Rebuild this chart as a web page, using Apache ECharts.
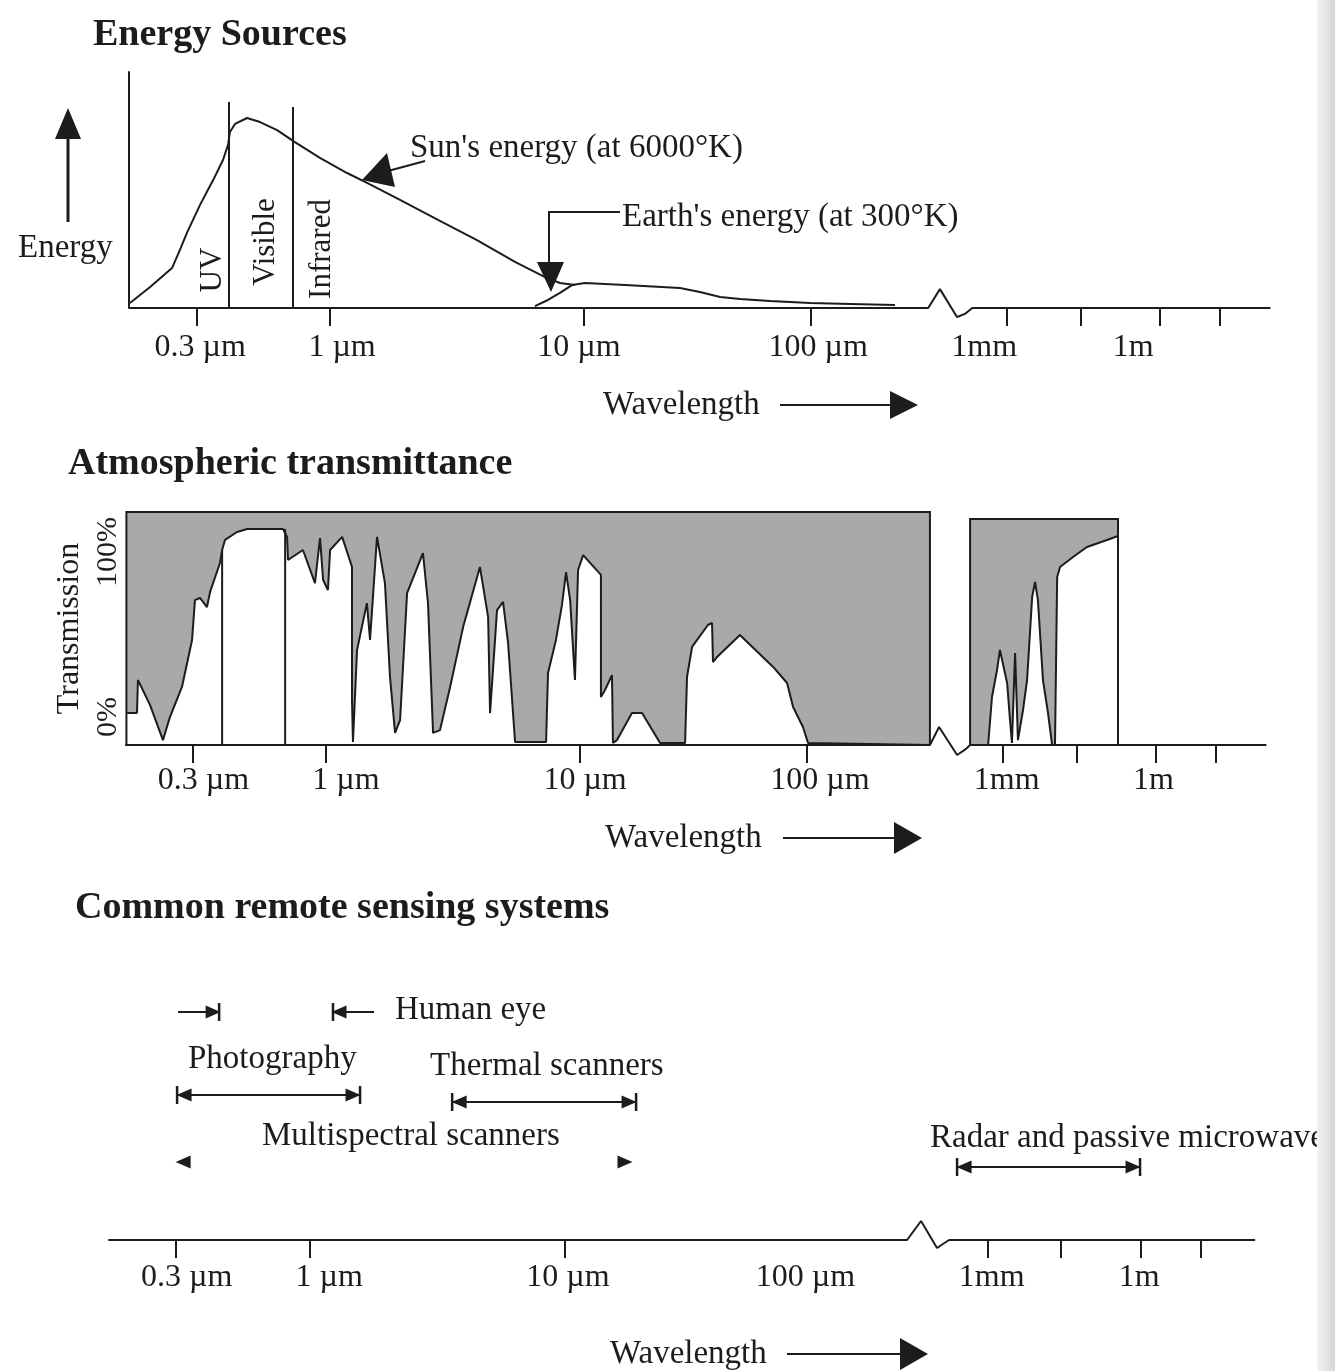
<!DOCTYPE html>
<html><head><meta charset="utf-8">
<script src="https://cdn.jsdelivr.net/npm/echarts@6/dist/echarts.min.js"></script>
<style>html,body{margin:0;padding:0;background:#fff}#c{width:1335px;height:1371px}</style>
</head><body><div id="c"></div>
<script>
// ================= DATA =================
// x unit: position along the drawn wavelength axis, in decades from 1 µm
// (as drawn in the figure; the scale is compressed after the axis break)
const tickPos   = [-0.555, 0, 1.055, 2.0, 2.815, 3.12, 3.45, 3.70];
const tickPos3  = [-0.555, 0, 1.055, 2.805, 3.107, 3.438, 3.686];
const tickLabels = ['0.3 µm', '1 µm', '10 µm', '100 µm', '1mm', '1m'];
const labelPos1 = [-0.54, 0.05, 1.035, 2.03, 2.72, 3.34];
const labelPos2 = [-0.51, 0.083, 1.077, 2.054, 2.83, 3.44];
const labelPos3 = [-0.51, 0.079, 1.067, 2.05, 2.82, 3.43];

// Panel 1 – energy sources (relative energy, 0–100)
const sunEnergy = [[-0.832,2.1],[-0.748,8.9],[-0.657,16.9],[-0.624,24.6],[-0.595,31.8],[-0.541,43.6],
  [-0.486,54.2],[-0.445,62.7],[-0.424,69.1],[-0.416,74.6],[-0.395,78.0],[-0.345,80.5],[-0.291,78.8],
  [-0.220,75.4],[-0.146,70.3],[-0.042,63.6],[0.071,57.2],[0.154,53.0],[0.291,45.8],[0.449,37.3],
  [0.611,28.8],[0.769,19.5],[0.894,13.1],[0.956,10.6],[1.019,9.7]];
const earthEnergy = [[0.852,0.8],[0.906,3.4],[0.956,6.4],[1.006,9.7],[1.060,10.6],[1.227,9.7],[1.455,8.5],
  [1.538,6.8],[1.622,4.7],[1.705,3.8],[1.830,3.0],[1.996,2.1],[2.162,1.7],[2.349,1.3]];
const bandEdges1 = [[-0.42, 87.3], [-0.154, 85.2]];           // UV|Visible, Visible|Infrared (x, top)
const axisBreak1 = [[2.487,0],[2.536,8],[2.607,-3.8],[2.64,-2.5],[2.67,0]];

// Panel 2 – atmospheric transmission (%)
const transOptical = [[-0.827,13.7],[-0.786,13.7],[-0.782,27.9],[-0.732,17.2],[-0.678,2.1],[-0.649,12.0],
  [-0.599,24.9],[-0.557,45.1],[-0.545,62.2],[-0.524,63.1],[-0.495,59.2],[-0.482,65.7],[-0.441,78.1],
  [-0.432,83.7],[-0.420,88.0],[-0.370,91.4],[-0.328,92.7],[-0.179,92.7],[-0.162,89.3],[-0.158,79.4],
  [-0.096,83.7],[-0.046,69.5],[-0.025,88.8],[-0.012,70.8],[0.008,66.5],[0.017,83.7],[0.067,89.3],
  [0.108,76.4],[0.108,19.3],[0.112,1.3],[0.129,40.8],[0.170,60.9],[0.183,45.1],[0.212,89.3],[0.245,69.5],
  [0.266,29.2],[0.287,5.2],[0.308,10.7],[0.337,65.2],[0.403,82.4],[0.424,60.9],[0.445,5.2],[0.474,6.4],
  [0.516,24.9],[0.570,50.6],[0.640,76.4],[0.674,54.9],[0.682,13.7],[0.711,57.9],[0.736,61.4],[0.757,43.8],
  [0.786,1.3],[0.915,1.3],[0.923,30.9],[0.956,45.1],[0.981,60.1],[0.998,74.2],[1.015,62.2],[1.035,27.9],
  [1.048,75.1],[1.069,81.5],[1.143,73.0],[1.143,20.6],[1.160,23.6],[1.189,30.0],[1.193,0.9],[1.210,2.1],
  [1.272,13.7],[1.314,13.7],[1.389,0.9],[1.493,0.9],[1.501,29.2],[1.522,42.1],[1.588,51.5],[1.605,52.4],
  [1.609,35.6],[1.626,37.8],[1.721,47.2],[1.859,33.5],[1.917,26.6],[1.942,16.3],[1.983,7.7],[2.004,0.9],
  [2.511,0]];
const transMicrowave = [[2.678,0],[2.753,0],[2.769,20.6],[2.790,32.2],[2.802,40.8],[2.832,26.6],[2.844,10.7],
  [2.852,0.9],[2.865,39.5],[2.877,2.1],[2.898,15.0],[2.915,27.9],[2.936,63.5],[2.948,70.0],[2.960,62.2],
  [2.981,27.9],[3.002,13.7],[3.019,0],[3.031,0],[3.040,72.1],[3.052,76.4],[3.106,80.7],[3.164,85.0],
  [3.247,88.0],[3.293,89.7]];
const blockedBoxes = [[-0.83, 2.511, 100], [2.678, 3.293, 97]];   // start, end, top
const bandEdges2 = [[-0.432, 83.7], [-0.170, 92.7]];
const axisBreak2 = [[2.511,0],[2.549,7.7],[2.624,-4.3],[2.657,-2],[2.678,0]];

// Panel 3 – common remote sensing systems
const rangeNames = ['Human eye', 'Photography', 'Thermal scanners', 'Multispectral scanners', 'Radar and passive microwave'];
const rangeStart = [-0.376, -0.550, 0.588, -0.525, 2.677];
const rangeEnd   = [ 0.095,  0.207, 1.349,  1.303, 3.434];
const rangeRow   = [91.2, 58, 55.2, 31.2, 29.2];
const rangeStyle = ['inward', 'outward', 'outward', 'heads', 'outward'];
const axisBreak3 = [[2.47,0],[2.528,7.6],[2.594,-3.2],[2.62,-1.5],[2.644,0]];

// ================= LAYOUT / STYLE =================
const X_MIN = -0.835, X_MAX = 3.91;
const FONT = '"Liberation Serif", "DejaVu Serif", serif';
const INK = '#1c1c1c';
const GRAY = '#a9a9a9';
const FS = 32;

function xAxisFor(i, ticks, labelPos, margin) {
  return {
    type: 'value', gridIndex: i, min: X_MIN, max: X_MAX,
    axisLine: { show: false }, splitLine: { show: false },
    axisTick: { show: true, customValues: ticks, length: 18, lineStyle: { color: INK, width: 2 } },
    axisLabel: { customValues: labelPos, margin: margin, fontSize: FS, fontFamily: FONT, color: INK,
      formatter: v => tickLabels[labelPos.indexOf(v)] }
  };
}
function baseline(brk) { return [[X_MIN, 0]].concat(brk, [[X_MAX, 0]]); }
function lineSeries(i, data, extra) {
  return Object.assign({ type: 'line', xAxisIndex: i, yAxisIndex: i, data: data, symbol: 'none',
    smooth: false, silent: true, animation: false, lineStyle: { color: INK, width: 2 } }, extra || {});
}

const series = [];
// ---- panel 1
series.push(lineSeries(0, baseline(axisBreak1), { clip: false }));
series.push(lineSeries(0, sunEnergy, { name: "Sun's energy" }));
series.push(lineSeries(0, earthEnergy, { name: "Earth's energy" }));
series.push({ type: 'lines', coordinateSystem: 'cartesian2d', xAxisIndex: 0, yAxisIndex: 0, silent: true,
  animation: false, lineStyle: { color: INK, width: 2, opacity: 1 },
  data: bandEdges1.map(([x, t]) => ({ coords: [[x, -4.2], [x, t]] })) });
// ---- panel 2
blockedBoxes.forEach(([s, e, t]) => {
  series.push(lineSeries(1, [[s, 0], [s, t], [e, t], [e, 0]],
    { z: 1, lineStyle: { width: 0 }, areaStyle: { color: GRAY, opacity: 1 } }));
});
series.push(lineSeries(1, transOptical, { z: 2, areaStyle: { color: '#ffffff', opacity: 1 } }));
series.push(lineSeries(1, transMicrowave, { z: 2, areaStyle: { color: '#ffffff', opacity: 1 } }));
series.push({ type: 'lines', coordinateSystem: 'cartesian2d', xAxisIndex: 1, yAxisIndex: 1, silent: true,
  animation: false, polyline: true, z: 3, lineStyle: { color: INK, width: 2, opacity: 1 },
  data: blockedBoxes.map(([s, e, t]) => ({ coords: [[s, 0], [s, t], [e, t], [e, 0]] }))
    .concat(bandEdges2.map(([x, t]) => ({ coords: [[x, 0], [x, t]] }))) });
series.push(lineSeries(1, baseline(axisBreak2), { clip: false, z: 3 }));
// ---- panel 3
series.push(lineSeries(2, baseline(axisBreak3), { clip: false }));
const OUT = 0.17;
const shafts = [], heads = [], bars = [];
rangeNames.forEach((n, i) => {
  const s = rangeStart[i], e = rangeEnd[i], y = rangeRow[i], st = rangeStyle[i];
  if (st === 'outward') {
    shafts.push({ coords: [[s, y], [e, y]] });
    heads.push({ value: [s, y], symbolRotate: 90, symbolOffset: [7, 0] });
    heads.push({ value: [e, y], symbolRotate: -90, symbolOffset: [-7, 0] });
  } else if (st === 'heads') {
    heads.push({ value: [s, y], symbolRotate: 90 });
    heads.push({ value: [e, y], symbolRotate: -90 });
  } else {
    shafts.push({ coords: [[s - OUT, y], [s, y]] });
    shafts.push({ coords: [[e, y], [e + OUT, y]] });
    heads.push({ value: [s, y], symbolRotate: -90, symbolOffset: [-6, 0] });
    heads.push({ value: [e, y], symbolRotate: 90, symbolOffset: [6, 0] });
  }
  if (st !== 'heads') { bars.push([s, y]); bars.push([e, y]); }
});
series.push({ type: 'lines', coordinateSystem: 'cartesian2d', xAxisIndex: 2, yAxisIndex: 2, silent: true,
  animation: false, lineStyle: { color: INK, width: 2, opacity: 1 }, data: shafts });
series.push({ type: 'scatter', xAxisIndex: 2, yAxisIndex: 2, silent: true, animation: false,
  symbol: 'triangle', symbolSize: [13, 15], itemStyle: { color: INK, opacity: 1 }, data: heads });
series.push({ type: 'scatter', xAxisIndex: 2, yAxisIndex: 2, silent: true, animation: false,
  symbol: 'rect', symbolSize: [2.5, 18], itemStyle: { color: INK, opacity: 1 }, data: bars });

// ---- text & decorations
function txt(text, x, y, size, opts) {
  opts = opts || {};
  return { type: 'text', x: x, y: y, rotation: opts.rot || 0, silent: true,
    style: { text: text, fontSize: size, fontFamily: FONT, fontWeight: opts.bold ? 'bold' : 'normal',
      fill: INK, align: opts.align || 'left', verticalAlign: 'middle' } };
}
function poly(points, w) { return { type: 'polyline', silent: true, shape: { points: points }, style: { stroke: INK, lineWidth: w || 2, fill: null } }; }
function tri(points) { return { type: 'polygon', silent: true, shape: { points: points }, style: { fill: INK } }; }
const R = Math.PI / 2;
const graphic = [
  txt('Energy Sources', 93, 35, 38, { bold: true }),
  txt('Atmospheric transmittance', 68, 464, 38, { bold: true }),
  txt('Common remote sensing systems', 75, 908, 38, { bold: true }),
  // panel 1
  txt('Energy', 18, 248, 33),
  poly([[68, 222], [68, 135]], 3), tri([[68, 108], [55, 139], [81, 139]]),
  txt("Sun's energy (at 6000°K)", 410, 148, 33),
  poly([[388, 171], [425, 161]]), tri([[362, 180], [387, 153], [395, 187]]),
  txt("Earth's energy (at 300°K)", 622, 217, 33),
  poly([[620, 212], [549, 212], [549, 268]]), tri([[551, 292], [537, 262], [564, 262]]),
  txt('UV', 213, 270, 31, { rot: R, align: 'center' }),
  txt('Visible', 266, 242, 31, { rot: R, align: 'center' }),
  txt('Infrared', 322, 249, 31, { rot: R, align: 'center' }),
  txt('Wavelength', 603, 405, 33), poly([[780, 405], [895, 405]]), tri([[918, 405], [890, 391], [890, 419]]),
  // panel 2
  txt('UV', 205, 695, 31, { rot: R, align: 'center' }),
  txt('Visible', 258, 668, 31, { rot: R, align: 'center' }),
  txt('Infrared', 314, 677, 31, { rot: R, align: 'center' }),
  txt('(Energy', 802, 594, 31), txt('blocked)', 802, 630, 31),
  txt('Wavelength', 605, 838, 33), poly([[783, 838], [897, 838]]), tri([[922, 838], [894, 822], [894, 854]]),
  // panel 3
  txt(rangeNames[0], 395, 1010, 33),
  txt(rangeNames[1], 188, 1059, 33),
  txt(rangeNames[2], 430, 1066, 33),
  txt(rangeNames[3], 262, 1136, 33),
  txt(rangeNames[4], 930, 1138, 33),
  txt('Wavelength', 610, 1354, 33), poly([[787, 1354], [902, 1354]]), tri([[928, 1354], [900, 1338], [900, 1370]]),
  // scanner edge
  { type: 'rect', silent: true, shape: { x: 1317, y: 0, width: 18, height: 1371 },
    style: { fill: new echarts.graphic.LinearGradient(0, 0, 1, 0, [{ offset: 0, color: '#f2f2f2' }, { offset: 1, color: '#d6d6d6' }]) } }
];

const chart = echarts.init(document.getElementById('c'), null, { renderer: 'canvas' });
chart.setOption({
  backgroundColor: '#ffffff',
  animation: false,
  grid: [
    { left: 129.2, top: 72, width: 1141.2, height: 236 },
    { left: 125.2, top: 512, width: 1141.2, height: 233 },
    { left: 108.2, top: 990, width: 1146.9, height: 250 }
  ],
  xAxis: [xAxisFor(0, tickPos, labelPos1, 24), xAxisFor(1, tickPos, labelPos2, 20), xAxisFor(2, tickPos3, labelPos3, 22)],
  yAxis: [
    { type: 'value', gridIndex: 0, min: 0, max: 100, axisLine: { show: true, onZero: false, lineStyle: { color: INK, width: 2 } },
      axisTick: { show: false }, axisLabel: { show: false }, splitLine: { show: false } },
    { type: 'value', gridIndex: 1, min: 0, max: 100, axisLine: { show: false, onZero: false }, axisTick: { show: false },
      splitLine: { show: false },
      name: 'Transmission', nameLocation: 'middle', nameRotate: 90, nameGap: 39,
      nameTextStyle: { fontSize: FS, fontFamily: FONT, color: INK },
      axisLabel: { customValues: [0, 100], rotate: 90, margin: 17, align: 'center', verticalAlign: 'middle',
        formatter: v => (v === 0 ? '{lo|0%}' : '{hi|100%}'),
        rich: { lo: { fontSize: 30, fontFamily: FONT, color: INK, padding: [0, 0, 0, 56] },
                hi: { fontSize: 30, fontFamily: FONT, color: INK, padding: [0, 80, 0, 0] } } } },
    { type: 'value', gridIndex: 2, min: 0, max: 100, show: false }
  ],
  series: series,
  graphic: graphic
});
</script></body></html>
